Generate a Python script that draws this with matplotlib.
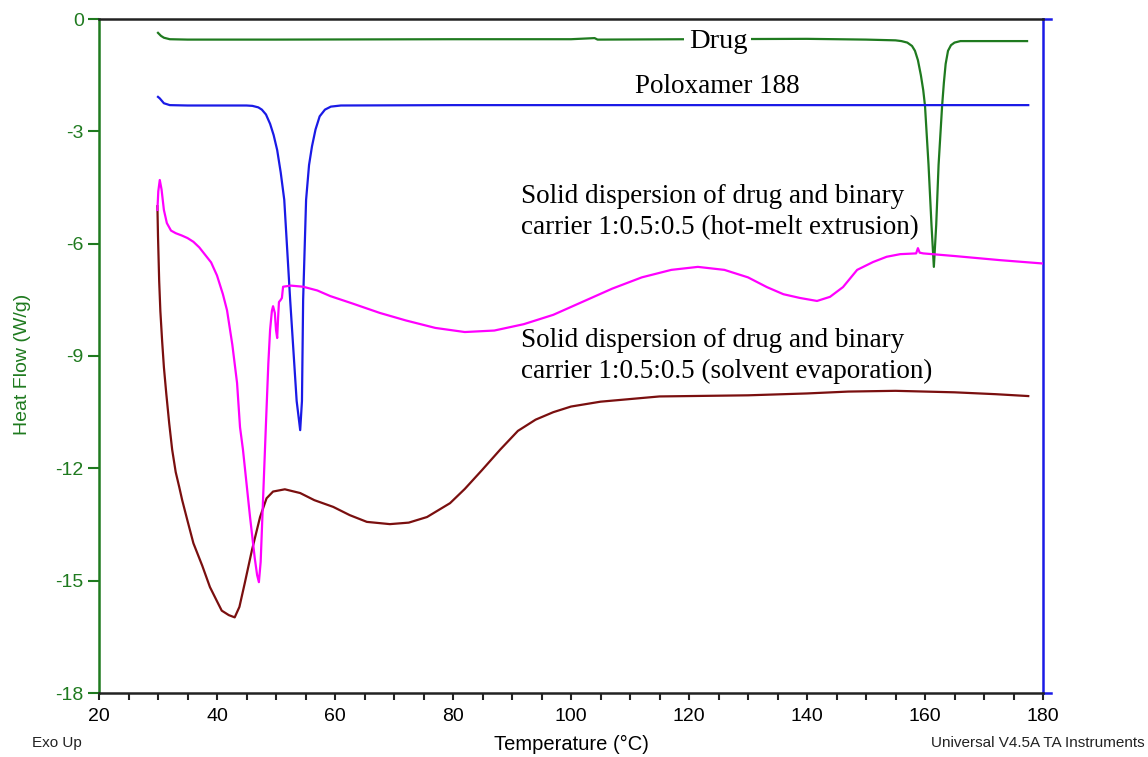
import matplotlib
matplotlib.use("Agg")
import matplotlib.pyplot as plt
from matplotlib.ticker import MultipleLocator

plt.rcParams['axes.unicode_minus'] = False
plt.rcParams['font.family'] = ['Liberation Sans', 'DejaVu Sans']

# ---- data ----
drug_x = [30, 30.5, 31, 32, 35, 50, 80, 100, 104, 104.5, 105, 120, 140, 150, 155, 156,
          157, 157.8, 158.3, 158.8, 159.3, 159.7, 160.0, 160.6, 161.1, 161.5, 161.9,
          162.3, 162.9, 163.2, 163.5, 163.9, 164.4, 165, 166, 170, 177.3]
drug_y = [-0.37, -0.45, -0.50, -0.54, -0.55, -0.55, -0.54, -0.54, -0.51, -0.55, -0.55,
          -0.54, -0.53, -0.55, -0.57, -0.59, -0.63, -0.72, -0.85, -1.1, -1.5, -1.9,
          -2.32, -3.9, -5.5, -6.62, -5.5, -3.9, -2.32, -1.7, -1.2, -0.85, -0.7, -0.63,
          -0.59, -0.59, -0.59]

polox_x = [30, 30.3, 31, 32, 35, 40, 45, 46, 47, 47.6, 48.3, 49, 49.6, 50.2, 50.8, 51.4,
           52.4, 53.5, 54.1, 54.4, 54.6, 55.1, 55.6, 56.1, 56.7, 57.4, 58.3, 59.3, 61,
           80, 120, 143, 160, 177.5]
polox_y = [-2.08, -2.12, -2.25, -2.30, -2.31, -2.31, -2.31, -2.32, -2.36, -2.42, -2.55,
           -2.8, -3.1, -3.5, -4.1, -4.83, -7.5, -10.2, -10.98, -10.2, -7.5, -4.83, -3.9,
           -3.4, -2.95, -2.6, -2.42, -2.34, -2.31, -2.30, -2.30, -2.30, -2.30, -2.30]

hme_x = [29.9, 30.05, 30.3, 30.6, 31.0, 31.5, 32.2, 33, 34, 35, 36, 37, 38, 39, 40, 41,
         41.7, 42.6, 43.4, 43.9, 44.4, 45.0, 45.6, 46.4, 46.8, 47.1, 47.4, 47.8, 48.3,
         48.7, 49.0, 49.3, 49.5, 49.8, 50.0, 50.2, 50.35, 50.5, 50.8, 51.0, 51.2, 52.5,
         54.6, 57, 59.2, 63, 67.6, 72, 77, 82, 87, 92, 97, 102, 107, 112, 117, 121.5,
         126, 130, 133.2, 136, 138.8, 141.7, 143.9, 146.1, 148.5, 151.2, 153.5, 155.8,
         158.5, 158.8, 159.1, 159.7, 165, 172.7, 180]
hme_y = [-5.1, -4.6, -4.30, -4.55, -5.1, -5.45, -5.65, -5.72, -5.78, -5.85, -5.95, -6.1,
         -6.3, -6.5, -6.85, -7.35, -7.78, -8.7, -9.72, -10.9, -11.5, -12.4, -13.3,
         -14.4, -14.85, -15.04, -14.5, -12.85, -10.8, -9.2, -8.3, -7.8, -7.67, -7.85,
         -8.3, -8.52, -8.0, -7.56, -7.5, -7.45, -7.15, -7.12, -7.15, -7.25, -7.4, -7.6,
         -7.85, -8.05, -8.25, -8.36, -8.32, -8.15, -7.9, -7.55, -7.2, -6.9, -6.7, -6.62,
         -6.7, -6.9, -7.16, -7.35, -7.45, -7.53, -7.42, -7.16, -6.7, -6.49, -6.35,
         -6.28, -6.26, -6.12, -6.24, -6.26, -6.33, -6.44, -6.53]

se_x = [29.9, 30.0, 30.2, 30.4, 30.7, 31.0, 31.4, 31.9, 32.4, 33.0, 33.6, 34.1, 35, 36,
        37.5, 38.8, 40, 40.8, 42, 43, 43.8, 44.7, 45.9, 47.3, 48.4, 49.5, 51.5, 54.1,
        56.5, 59.7, 62.5, 65.4, 69.3, 72.5, 75.6, 79.5, 82, 84.9, 88, 91, 94, 97, 100,
        105, 110, 115, 120, 130, 140, 147, 155, 165, 172, 177.5]
se_y = [-5.0, -5.8, -7.0, -7.8, -8.6, -9.3, -10.0, -10.8, -11.5, -12.1, -12.5, -12.85,
        -13.4, -14.0, -14.6, -15.17, -15.55, -15.8, -15.92, -15.98, -15.7, -15.07,
        -14.2, -13.3, -12.8, -12.62, -12.56, -12.66, -12.85, -13.03, -13.25, -13.43,
        -13.49, -13.45, -13.3, -12.93, -12.55, -12.05, -11.5, -11.0, -10.7, -10.5,
        -10.35, -10.22, -10.15, -10.08, -10.07, -10.05, -10.0, -9.95, -9.93, -9.97,
        -10.02, -10.07]

x_ticks = [20, 40, 60, 80, 100, 120, 140, 160, 180]
y_ticks = [0, -3, -6, -9, -12, -15, -18]

GREEN = '#1f7a1f'
BLUE = '#1a1ae6'
MAGENTA = '#ff00ff'
BROWN = '#7a0f0f'

fig = plt.figure(figsize=(11.48, 7.57), dpi=100)
ax = fig.add_axes([99 / 1148, 64 / 757, 944 / 1148, 674 / 757])

lw = 1.6
ax.plot(drug_x, drug_y, color=GREEN, lw=lw, zorder=3)
ax.plot(polox_x, polox_y, color=BLUE, lw=lw, zorder=3)
ax.plot(se_x, se_y, color=BROWN, lw=lw, zorder=3)
ax.plot(hme_x, hme_y, color=MAGENTA, lw=lw, zorder=4)

ax.set_xlim(20, 180)
ax.set_ylim(-18, 0)
ax.set_xticks(x_ticks)
ax.set_xticklabels([str(v) for v in x_ticks])
ax.xaxis.set_minor_locator(MultipleLocator(5))
ax.set_yticks(y_ticks)
ax.set_yticklabels([str(v) for v in y_ticks])

ax.tick_params(axis='x', which='major', direction='out', length=5, width=1.5,
               color='#222222', labelsize=14, labelcolor='black', pad=6)
ax.tick_params(axis='x', which='minor', direction='out', length=5, width=1.5,
               color='#222222')
ax.tick_params(axis='y', which='major', direction='out', length=8, width=1.5,
               color=GREEN, labelsize=14, labelcolor=GREEN, pad=3)

ax.spines['left'].set_color(GREEN)
ax.spines['top'].set_color('#222222')
ax.spines['bottom'].set_color('#222222')
ax.spines['right'].set_color(BLUE)
for s in ax.spines.values():
    s.set_linewidth(1.8)

# small blue extensions at right ends of top/bottom axes
ax.plot([1.0, 1.009], [1.0, 1.0], transform=ax.transAxes, color=BLUE, lw=1.8, clip_on=False)
ax.plot([1.0, 1.009], [0.0, 0.0], transform=ax.transAxes, color=BLUE, lw=1.8, clip_on=False)

ax.set_xlabel('Temperature (°C)', fontsize=14.5)
ax.xaxis.set_label_coords(0.5, -0.062)
ax.set_ylabel('Heat Flow (W/g)', fontsize=14, color=GREEN)
ax.yaxis.set_label_coords(-0.072, 0.487)

fig.text(32 / 1148, 1 - 743 / 757, 'Exo Up', fontsize=11, color='#222222',
         ha='left', va='center')
fig.text(1145 / 1148, 1 - 743 / 757, 'Universal V4.5A TA Instruments', fontsize=11,
         color='#222222', ha='right', va='center')

serif = 'Liberation Serif'
ax.text(124.9, -0.6, 'Drug', family=serif, fontsize=20.5, ha='center', va='center',
        zorder=5, bbox=dict(facecolor='white', edgecolor='none', pad=3))
ax.text(124.8, -1.8, 'Poloxamer 188', family=serif, fontsize=19.5, ha='center',
        va='center', zorder=5)
ax.text(91.5, -5.15, 'Solid dispersion of drug and binary\ncarrier 1:0.5:0.5 (hot-melt extrusion)',
        family=serif, fontsize=19.5, ha='left', va='center', linespacing=1.3, zorder=5)
ax.text(91.5, -8.99, 'Solid dispersion of drug and binary\ncarrier 1:0.5:0.5 (solvent evaporation)',
        family=serif, fontsize=19.5, ha='left', va='center', linespacing=1.3, zorder=5)

fig.savefig('out.png', dpi=100)
